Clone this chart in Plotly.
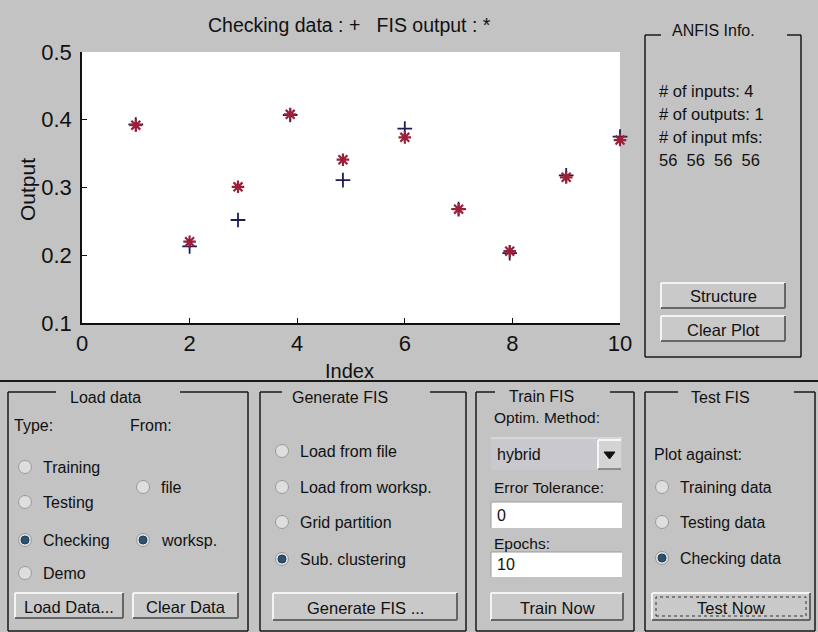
import plotly.graph_objects as go

# ---------------- data ----------------
index_vals = [1, 2, 2.9, 3.87, 4.85, 6, 7, 7.95, 9, 10]
checking_data = [0.393, 0.213, 0.252, 0.407, 0.311, 0.387, 0.268, 0.203, 0.318, 0.375]
fis_output = [0.392, 0.220, 0.301, 0.408, 0.341, 0.374, 0.268, 0.206, 0.315, 0.370]
x_ticks = [0, 2, 4, 6, 8, 10]
y_ticks = [0.1, 0.2, 0.3, 0.4, 0.5]
info_lines = ["# of inputs: 4", "# of outputs: 1", "# of input mfs:", "56  56  56  56"]

W, H = 818, 632
BG = "#c3c3c3"
FONT = "Liberation Sans, Arial, sans-serif"
GUI = 16

def px(x):
    return x / W

def py(y):
    return 1 - y / H

fig = go.Figure()
fig.add_trace(go.Scatter(x=index_vals, y=checking_data, mode="markers", cliponaxis=False,
                         marker=dict(symbol="cross-thin-open", size=10.5, color="#1c1c58",
                                     line=dict(color="#1c1c58", width=1.8)),
                         name="Checking data", showlegend=False))
fig.add_trace(go.Scatter(x=index_vals, y=fis_output, mode="markers", cliponaxis=False,
                         marker=dict(symbol="asterisk-open", size=10.5, color="#9c1f3a",
                                     line=dict(color="#9c1f3a", width=2.2)),
                         name="FIS output", showlegend=False))

shapes = []
annots = []

def line(x0, y0, x1, y1, color="#1a1a1a", width=1.5):
    shapes.append(dict(type="line", xref="paper", yref="paper",
                       x0=px(x0), y0=py(y0), x1=px(x1), y1=py(y1),
                       line=dict(color=color, width=width)))

def rect(x0, y0, x1, y1, fill, lc="rgba(0,0,0,0)", lw=0, dash=None, layer="above"):
    ld = dict(color=lc, width=lw)
    if dash:
        ld["dash"] = dash
    shapes.append(dict(type="rect", xref="paper", yref="paper",
                       x0=px(x0), y0=py(y1), x1=px(x1), y1=py(y0),
                       fillcolor=fill, line=ld, layer=layer))

def circle(cx, cy, r, fill, lc, lw=1):
    shapes.append(dict(type="circle", xref="paper", yref="paper",
                       x0=px(cx - r), x1=px(cx + r), y0=py(cy + r), y1=py(cy - r),
                       fillcolor=fill, line=dict(color=lc, width=lw)))

def text(x, y, s, size=GUI, anchor="left", angle=0):
    annots.append(dict(x=px(x), y=py(y), xref="paper", yref="paper", text=s,
                       showarrow=False, xanchor=anchor, yanchor="middle",
                       textangle=angle,
                       font=dict(family=FONT, size=size, color="#111111")))

def button(x0, y0, x1, y1, label, focus=False):
    rect(x0, y0, x1, y1, "#c9c9c9")
    line(x0, y0, x1, y0, "#f4f4f4", 2)
    line(x0, y0, x0, y1, "#f4f4f4", 2)
    line(x0, y1, x1, y1, "#666666", 2)
    line(x1, y0, x1, y1, "#666666", 2)
    if focus:
        rect(x0 + 4, y0 + 4, x1 - 4, y1 - 4, "rgba(0,0,0,0)", "#333333", 1, dash="dot")
    text((x0 + x1) / 2, (y0 + y1) / 2 + 1, label, 16.5, "center")

def radio(cx, cy, label, selected=False, size=GUI):
    circle(cx, cy, 6.5, "#dedede", "#9a9a9a", 1)
    if selected:
        circle(cx, cy, 4, "#2b5272", "#1d3b55", 1)
    text(cx + 16, cy, label, size)

def panel(x0, y0, x1, y1, gap0, gap1, title, tx, ty):
    line(x0, y0, gap0, y0)
    line(gap1, y0, x1, y0)
    line(x0, y0, x0, y1)
    line(x1, y0, x1, y1)
    line(x0, y1, x1, y1)
    text(tx, ty, title, GUI, "center")

# plot area background
shapes.append(dict(type="rect", xref="x domain", yref="y domain", x0=0, x1=1, y0=0, y1=1,
                   fillcolor="white", line=dict(width=0), layer="below"))

# titles of the plot
text(349, 25, "Checking data : +   FIS output : *", 19.5, "center")
text(349, 371, "Index", 20, "center")
text(27, 190, "Output", 21, "center", angle=-90)

# separator
line(0, 381, W, 381, "#1a1a1a", 2)

# ANFIS Info panel
panel(645, 35, 801, 357, 661, 787, "ANFIS Info.", 713, 30)
for i, s in enumerate(info_lines):
    text(657, 91 + i * 23, s, 16.5)
button(661, 283, 785, 308, "Structure")
button(661, 316, 785, 341, "Clear Plot")

# Load data panel
panel(8, 392, 248, 631, 56, 180, "Load data", 105, 397)
text(12, 425, "Type:")
text(128, 425, "From:")
radio(25, 467, "Training")
radio(25, 502, "Testing")
radio(25, 540, "Checking", True)
radio(25, 573, "Demo")
radio(143, 487, "file")
radio(143, 540, "worksp.", True)
button(15, 593, 123, 618, "Load Data...")
button(133, 593, 238, 618, "Clear Data")

# Generate FIS panel
panel(260, 392, 466, 631, 282, 430, "Generate FIS", 340, 397)
radio(282, 451, "Load from file")
radio(282, 487, "Load from worksp.")
radio(282, 522, "Grid partition")
radio(282, 559, "Sub. clustering", True)
button(273, 593, 457, 620, "Generate FIS ...")

# Train FIS panel
panel(476, 392, 634, 631, 495, 610, "Train FIS", 541, 396)
text(492, 417, "Optim. Method:", 15.5)
rect(491, 438, 622, 470, "#c8c8ce")
line(491, 438, 622, 438, "#e8e8e8", 1)
rect(598, 440, 621, 469, "#d4d4d4")
line(598, 440, 621, 440, "#f6f6f6", 2)
line(598, 440, 598, 469, "#f6f6f6", 2)
line(598, 469, 621, 469, "#777777", 1.5)
shapes.append(dict(type="path", xref="paper", yref="paper",
                   path="M %f %f L %f %f L %f %f Z" % (px(604), py(452), px(615), py(452), px(609.5), py(459)),
                   fillcolor="#111111", line=dict(color="#111111", width=1)))
text(495, 454, "hybrid")
text(492, 487, "Error Tolerance:", 15.5)
rect(491, 502, 622, 528, "white")
line(491, 502, 622, 502, "#9a9a9a", 1)
line(491, 502, 491, 528, "#9a9a9a", 1)
text(495, 515, "0")
text(492, 543, "Epochs:", 15.5)
rect(491, 552, 622, 577, "white")
line(491, 552, 622, 552, "#9a9a9a", 1)
line(491, 552, 491, 577, "#9a9a9a", 1)
text(495, 564, "10")
button(491, 593, 623, 620, "Train Now")

# Test FIS panel
panel(645, 392, 815, 631, 678, 794, "Test FIS", 720, 397)
text(652, 455, "Plot against:")
radio(662, 487, "Training data", size=15.8)
radio(662, 522, "Testing data", size=15.8)
radio(662, 558, "Checking data", True, size=15.8)
button(652, 593, 810, 620, "Test Now", focus=True)

fig.update_layout(
    width=W, height=H,
    margin=dict(l=0, r=0, t=0, b=0, autoexpand=False),
    paper_bgcolor=BG, plot_bgcolor="rgba(0,0,0,0)",
    shapes=shapes, annotations=annots,
    xaxis=dict(domain=[px(82), px(620)], range=[0, 10], tickvals=x_ticks,
               showgrid=False, zeroline=False, showline=True, linecolor="#111111", linewidth=1.5,
               ticks="inside", ticklen=5, tickcolor="#111111", automargin=False,
               tickfont=dict(family=FONT, size=22, color="#111111"), fixedrange=True),
    yaxis=dict(domain=[py(323), py(52)], range=[0.1, 0.5], tickvals=y_ticks, tickformat=".1f",
               showgrid=False, zeroline=False, showline=True, linecolor="#111111", linewidth=1.5,
               ticks="inside", ticklen=5, tickcolor="#111111", ticklabelstandoff=4, automargin=False,
               tickfont=dict(family=FONT, size=22, color="#111111"), fixedrange=True),
)

fig.write_html("out.html", config={"displayModeBar": False},
               post_script="document.body.style.margin='0';document.body.style.background='#c3c3c3';")
